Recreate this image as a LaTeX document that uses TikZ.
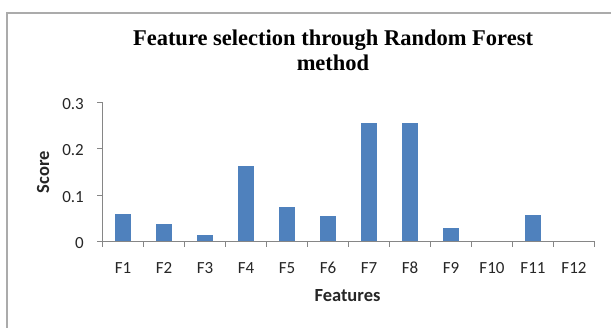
\documentclass[tikz,border=0pt]{standalone}
\usepackage{fontspec}
\setmainfont{Carlito}
\newfontfamily\titlefont{Liberation Serif}
\definecolor{barblue}{HTML}{4F81BD}
\definecolor{axisgray}{HTML}{868686}
\definecolor{framegray}{HTML}{ABABAB}
\begin{document}
\begin{tikzpicture}[x=1pt,y=-1pt,
  titletext/.style={font=\titlefont\bfseries\fontsize{22.5}{26}\selectfont, anchor=base, inner sep=0pt},
  ticklabel/.style={font=\fontsize{17}{19}\selectfont, text=black!85, inner sep=0pt},
  axistitle/.style={font=\bfseries\fontsize{18.5}{20}\selectfont, text=black!85, inner sep=0pt},
  axisline/.style={draw=axisgray, line width=1pt},
  bar/.style={fill=barblue, draw=none}]
\useasboundingbox (0,0) rectangle (611,327);
% outer frame of the chart area
\draw[framegray, line width=2pt] (7,340) -- (7,13) -- (630,13);
% title
\node[titletext] (title1) at (333,45.7) {Feature selection through Random Forest};
\node[titletext] (title2) at (333,70) {method};
% plot geometry: zero at y=241.7, 0.1 per 46.5, categories 41 wide from x=102.5
\def\yzero{241.7}
% bars
\foreach \v [count=\i] in {0.059,0.039,0.014,0.163,0.075,0.055,0.255,0.255,0.030,0,0.058,0} {
  \pgfmathsetmacro{\cx}{102.5+41*(\i-0.5)}
  \pgfmathsetmacro{\top}{\yzero-465*\v}
  \ifdim\v pt>0pt
    \fill[barblue] (\cx-8.2,\yzero) rectangle (\cx+8.2,\top);
  \fi
  \node[ticklabel, anchor=base] (xl\i) at (\cx,273) {F\i};
}
% axes
\coordinate (o) at (102.5,\yzero);
\coordinate (ytop) at (102.5,102.3);
\coordinate (xend) at (594.5,\yzero);
\draw[axisline] (ytop) -- (o) -- (xend);
% y ticks and labels
\foreach \t/\lab in {0/0, 1/0.1, 2/0.2, 3/0.3} {
  \pgfmathsetmacro{\ty}{\yzero-46.5*\t}
  \draw[axisline] (97,\ty) -- (102.5,\ty);
  \node[ticklabel, anchor=base east] (yl\t) at (84,\ty+7) {\lab};
}
% x ticks
\foreach \k in {0,...,12} {
  \pgfmathsetmacro{\tx}{102.5+41*\k}
  \draw[axisline] (\tx,\yzero) -- (\tx,\yzero+5);
}
% axis titles
\node[axistitle, anchor=base] (xtitle) at (347.5,301) {Features};
\node[axistitle, rotate=90, anchor=base] (ytitle) at (49,172) {Score};
\end{tikzpicture}
\end{document}
